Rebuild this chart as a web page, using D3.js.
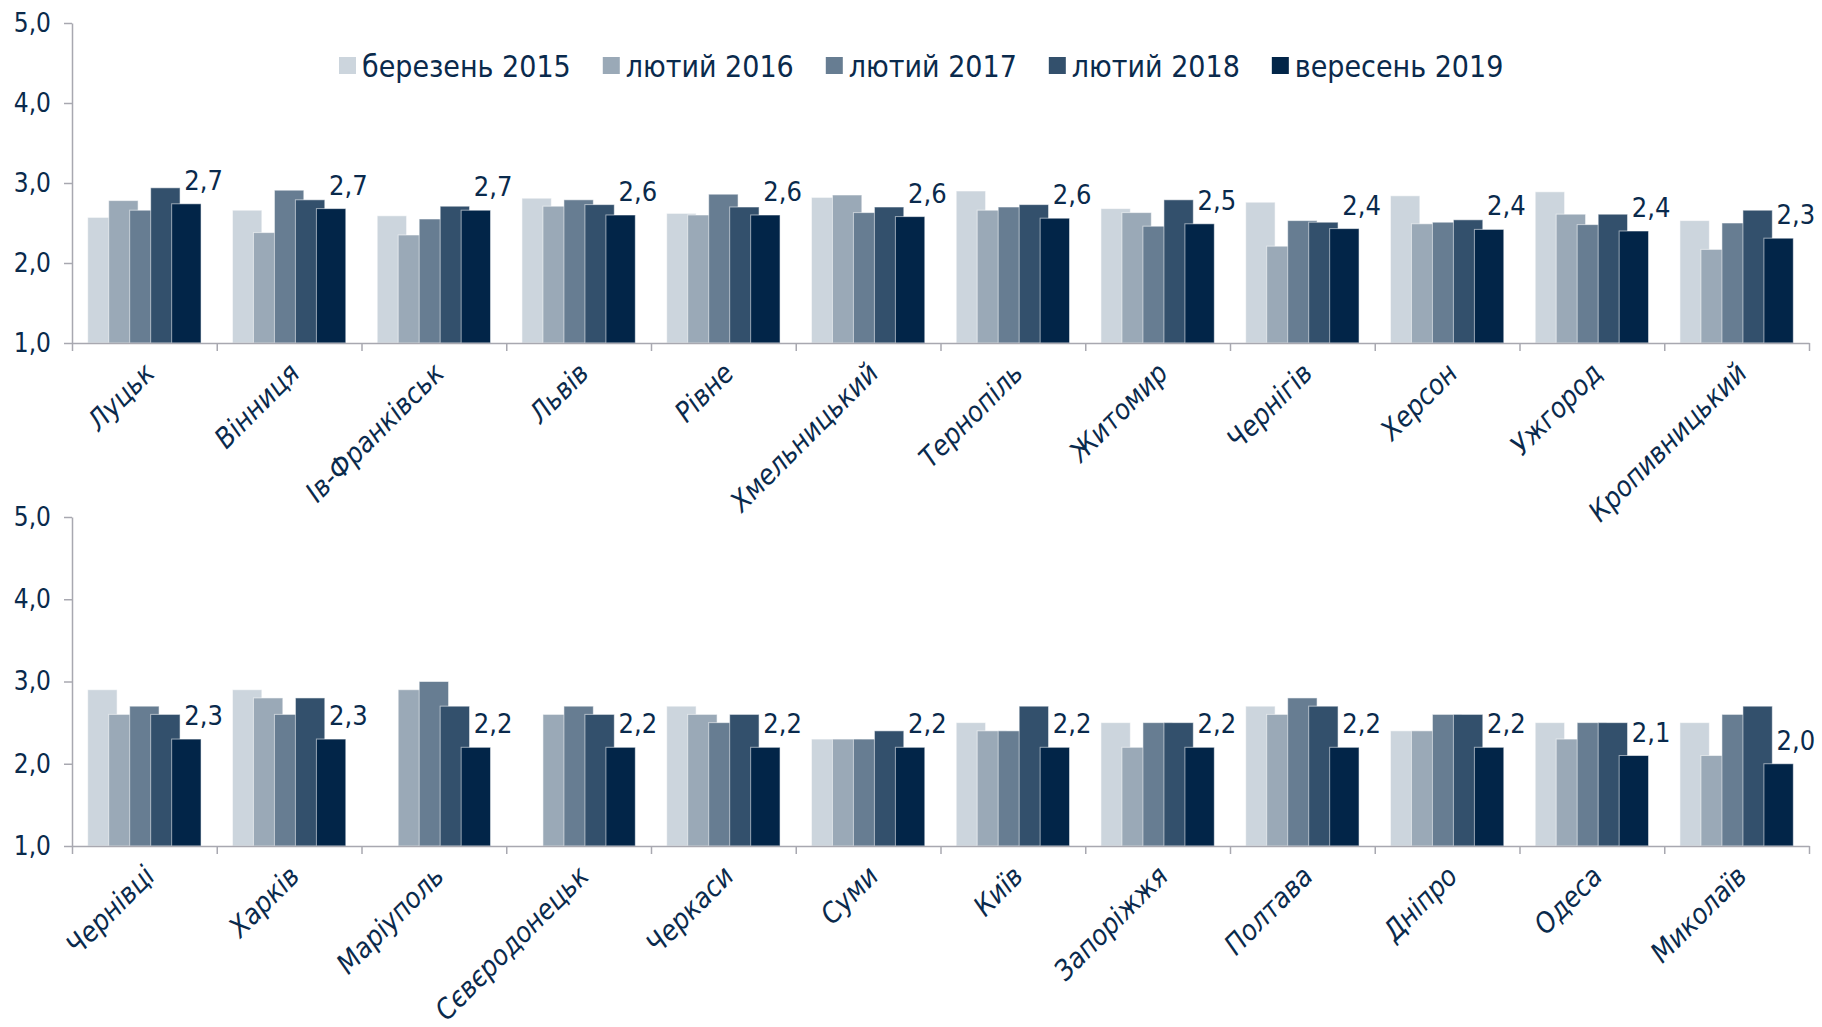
<!DOCTYPE html>
<html>
<head>
<meta charset="utf-8">
<script src="https://cdn.jsdelivr.net/npm/d3@7"></script>
<style>
    body { margin: 0; background: #fff; }
    .chart { width: 1822px; height: 1027px; }
    text { font-family: 'DejaVu Sans Condensed', 'Liberation Sans Narrow', 'Open Sans', sans-serif; font-stretch: condensed; fill: #0a2a4c; }
</style>
</head>
<body>
<div class="chart"></div>
<script>
(function () {
    'use strict';

    /* adatok */
    const series = ['березень 2015', 'лютий 2016', 'лютий 2017', 'лютий 2018', 'вересень 2019'];
    const colors = ['#ccd5dd', '#9aa9b7', '#677d92', '#33506c', '#022548'];
    const yTicks = [1, 2, 3, 4, 5];

    const citiesTop = ['Луцьк', 'Вінниця', 'Ів-Франківськ', 'Львів', 'Рівне', 'Хмельницький',
        'Тернопіль', 'Житомир', 'Чернігів', 'Херсон', 'Ужгород', 'Кропивницький'];
    const top2015 = [2.57, 2.66, 2.59, 2.81, 2.62, 2.82, 2.90, 2.68, 2.76, 2.84, 2.89, 2.53];
    const top2016 = [2.78, 2.38, 2.35, 2.71, 2.60, 2.85, 2.66, 2.63, 2.21, 2.49, 2.61, 2.17];
    const top2017 = [2.66, 2.91, 2.55, 2.79, 2.86, 2.63, 2.70, 2.46, 2.53, 2.51, 2.48, 2.50];
    const top2018 = [2.94, 2.79, 2.71, 2.73, 2.70, 2.70, 2.73, 2.79, 2.51, 2.54, 2.61, 2.66];
    const top2019 = [2.74, 2.68, 2.66, 2.60, 2.60, 2.58, 2.56, 2.49, 2.43, 2.42, 2.40, 2.31];

    const citiesBottom = ['Чернівці', 'Харків', 'Маріуполь', 'Сєвєродонецьк', 'Черкаси', 'Суми',
        'Київ', 'Запоріжжя', 'Полтава', 'Дніпро', 'Одеса', 'Миколаїв'];
    const bottom2015 = [2.9, 2.9, null, null, 2.7, 2.3, 2.5, 2.5, 2.7, 2.4, 2.5, 2.5];
    const bottom2016 = [2.6, 2.8, 2.9, 2.6, 2.6, 2.3, 2.4, 2.2, 2.6, 2.4, 2.3, 2.1];
    const bottom2017 = [2.7, 2.6, 3.0, 2.7, 2.5, 2.3, 2.4, 2.5, 2.8, 2.6, 2.5, 2.6];
    const bottom2018 = [2.6, 2.8, 2.7, 2.6, 2.6, 2.4, 2.7, 2.5, 2.7, 2.6, 2.5, 2.7];
    const bottom2019 = [2.3, 2.3, 2.2, 2.2, 2.2, 2.2, 2.2, 2.2, 2.2, 2.2, 2.1, 2.0];

    const fmt = function (v) {
        return d3.format('.1f')(v).replace('.', ',');
    };

    const svg = d3.select('.chart').append('svg')
        .attr('width', 1822)
        .attr('height', 1027);

    function makePanel(cities, values, y0, y1) {
        const g = svg.append('g');
        const x0 = d3.scaleBand().domain(cities).range([72, 1809]);
        const bw = x0.bandwidth();
        const x1 = d3.scalePoint().domain(series).range([-0.29 * bw, 0.29 * bw]);
        const barW = 0.203 * bw;
        const y = d3.scaleLinear().domain([1, 5]).range([y0, y1]);

        /* oszlopok */
        const data = [];
        series.forEach(function (s, si) {
            cities.forEach(function (c, ci) {
                if (values[si][ci] != null) {
                    data.push({ city: c, series: s, si: si, value: values[si][ci] });
                }
            });
        });

        g.selectAll('.bar').data(data).enter().append('rect')
            .attr('class', 'bar')
            .attr('x', function (d) { return x0(d.city) + bw / 2 + x1(d.series) - barW / 2; })
            .attr('y', function (d) { return y(d.value); })
            .attr('width', barW)
            .attr('height', function (d) { return y(1) - y(d.value); })
            .attr('fill', function (d) { return colors[d.si]; })
            .attr('stroke', 'rgba(255,255,255,0.55)')
            .attr('stroke-width', 1);

        /* címkék az utolsó sorozathoz */
        g.selectAll('.vlabel').data(data.filter(function (d) { return d.si === 4; }))
            .enter().append('text')
            .attr('class', 'vlabel')
            .attr('x', function (d) { return x0(d.city) + bw / 2 + x1(d.series) - 2; })
            .attr('y', function (d) { return y(d.value) - 14; })
            .style('font-size', '27px')
            .text(function (d) { return fmt(d.value); });

        /* y tengely */
        const yAxis = g.append('g')
            .attr('transform', 'translate(72,0)')
            .call(d3.axisLeft(y).tickValues(yTicks).tickSize(8).tickSizeOuter(0).tickPadding(13).tickFormat(fmt));
        yAxis.selectAll('text').style('font-size', '26px').attr('fill', '#0a2a4c');

        /* x tengely, osztásjelek a kategóriahatárokon */
        const xb = d3.scaleLinear().domain([0, cities.length]).range([72, 1809]);
        const xAxis = g.append('g')
            .attr('transform', 'translate(0,' + y0 + ')')
            .call(d3.axisBottom(xb).ticks(cities.length).tickSize(8).tickSizeOuter(0).tickFormat(''));

        [yAxis, xAxis].forEach(function (a) {
            a.selectAll('path, line').attr('stroke', '#a8a8b0').attr('stroke-width', 1.5);
        });

        g.selectAll('.clabel').data(cities).enter().append('text')
            .attr('class', 'clabel')
            .attr('transform', function (d) {
                return 'translate(' + (x0(d) + bw / 2 + 12) + ',' + (y0 + 32) + ') rotate(-45)';
            })
            .attr('text-anchor', 'end')
            .style('font-size', '28px')
            .style('font-style', 'italic')
            .text(function (d) { return d; });
    }

    makePanel(citiesTop, [top2015, top2016, top2017, top2018, top2019], 343, 23);
    makePanel(citiesBottom, [bottom2015, bottom2016, bottom2017, bottom2018, bottom2019], 846, 517);

    /* jelmagyarázat */
    const legend = svg.append('g').attr('class', 'legend');
    let lx = 339;
    series.forEach(function (s, i) {
        legend.append('rect')
            .attr('x', lx).attr('y', 57)
            .attr('width', 17).attr('height', 17)
            .attr('fill', colors[i]);
        const t = legend.append('text')
            .attr('x', lx + 23).attr('y', 77)
            .style('font-size', '30px')
            .text(s);
        lx += 23 + t.node().getComputedTextLength() + 32;
    });
}());
</script>
</body>
</html>
